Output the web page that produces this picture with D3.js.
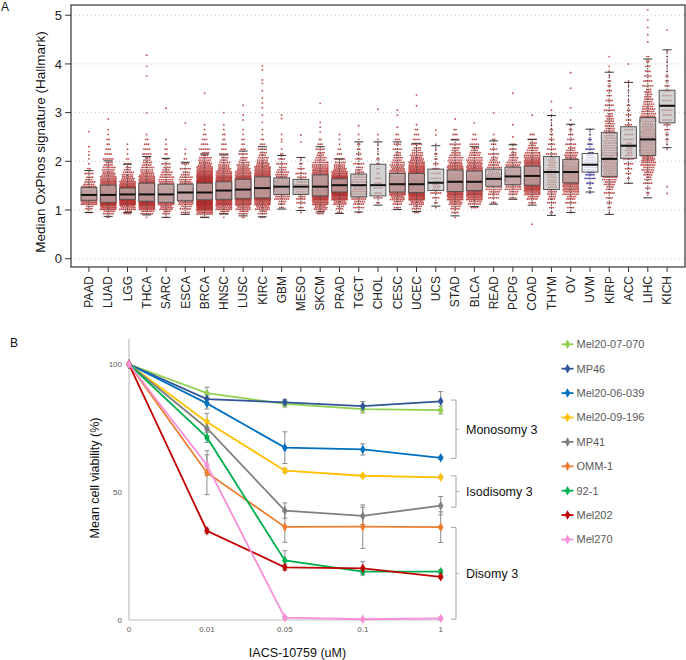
<!DOCTYPE html>
<html><head><meta charset="utf-8">
<script src="https://cdn.jsdelivr.net/npm/d3@7"></script>
<style>
body{margin:0;background:#fff;}
svg{display:block;font-family:"Liberation Sans",Arial,Helvetica,sans-serif;}
</style>
</head><body>
<svg id="chart" width="686" height="660"></svg>
<script>
// ---------------- Panel A data ----------------
const categories = ["PAAD","LUAD","LGG","THCA","SARC","ESCA","BRCA","HNSC","LUSC","KIRC","GBM","MESO","SKCM","PRAD","TGCT","CHOL","CESC","UCEC","UCS","STAD","BLCA","READ","PCPG","COAD","THYM","OV","UVM","KIRP","ACC","LIHC","KICH"];
const highlightCategory = "UVM";
const q1 = [1.20,1.16,1.22,1.18,1.16,1.19,1.21,1.22,1.24,1.25,1.32,1.32,1.29,1.37,1.27,1.29,1.37,1.36,1.40,1.38,1.40,1.49,1.52,1.51,1.42,1.56,1.78,1.69,2.06,2.12,2.79];
const medians = [1.31,1.31,1.32,1.32,1.32,1.36,1.36,1.40,1.42,1.45,1.48,1.48,1.48,1.51,1.51,1.51,1.53,1.53,1.56,1.58,1.58,1.64,1.69,1.70,1.78,1.78,1.93,2.05,2.32,2.45,3.14];
const q3 = [1.46,1.51,1.45,1.55,1.53,1.53,1.55,1.58,1.63,1.68,1.66,1.63,1.72,1.64,1.74,1.94,1.75,1.75,1.84,1.82,1.80,1.84,1.88,1.90,2.10,2.04,2.16,2.59,2.71,2.90,3.46];
const whiskerLow = [0.95,0.87,0.95,0.90,0.85,0.91,0.85,0.92,0.88,0.86,1.02,0.99,0.96,0.93,0.96,1.10,1.01,0.97,1.08,0.88,1.07,1.12,1.22,1.10,0.89,0.95,1.37,0.91,1.55,1.25,2.28];
const whiskerHigh = [1.81,2.01,1.94,2.10,2.06,1.98,2.15,2.13,2.21,2.30,2.12,2.08,2.30,2.05,2.40,2.40,2.40,2.37,2.32,2.44,2.30,2.42,2.34,2.45,2.94,2.76,2.66,3.83,3.62,4.10,4.29];
// sample density: counts per 0.1-wide bin, first bin starting at binStart
const binStart = [0.9,0.8,0.9,0.8,0.8,0.9,0.8,0.8,0.8,0.8,1.0,0.9,0.9,0.9,0.9,1.1,1.0,0.9,1.0,0.8,1.0,1.1,1.2,1.1,0.9,0.9,1.3,0.9,1.5,1.3,2.2];
const binCounts = [
  [3,8,30,44,38,24,12,8,5,2,1,1],
  [2,12,35,90,100,80,60,40,28,20,14,9,6,4,3,2,2,1,1],
  [8,25,70,140,120,70,35,20,12,7,4,2,1,1,1],
  [1,14,40,80,90,75,60,45,30,22,14,10,7,5,4,3,2,1],
  [2,8,20,38,42,40,32,24,16,12,8,5,3,2,2,1,1],
  [5,12,24,28,30,26,20,14,9,6,4,2,1,1],
  [5,30,70,150,200,190,150,110,70,45,30,20,14,8,6,4,3,2,1,1],
  [1,10,28,55,80,85,75,60,45,30,20,12,8,5,3,3,2,2,1,1],
  [2,10,22,45,70,80,75,62,48,30,20,13,8,5,3,2,2,1,1],
  [3,9,22,40,62,75,75,65,55,42,30,20,12,8,5,3,2,1,1],
  [3,8,16,24,28,24,20,14,9,6,4,2,1],
  [1,3,5,9,14,16,13,10,6,4,2,1],
  [8,20,35,55,65,65,58,48,38,28,18,12,8,5,3,2],
  [3,8,20,45,85,105,90,60,35,20,12,6,3,2,1,1,1],
  [2,6,12,16,18,20,18,14,11,8,6,4,3,2,2,1,1],
  [2,5,4,5,4,3,2,2,2,2,1,1,1,1,1],
  [4,10,22,38,45,42,36,28,22,15,10,7,5,4,3,2],
  [3,10,22,45,70,80,75,62,50,38,28,20,13,9,6,4,3,2,1],
  [1,2,4,6,8,7,6,5,4,3,2,2,1,1],
  [1,4,10,20,34,48,52,50,45,38,30,22,16,11,8,6,4,3,2],
  [4,14,32,50,56,54,48,40,32,24,17,12,8,5,3,2],
  [3,6,12,18,24,24,20,16,12,8,6,4,3,2,1],
  [4,10,18,24,28,26,22,16,10,7,4,3],
  [4,12,30,48,62,66,62,52,40,28,18,12,8,5,3],
  [2,3,5,8,10,10,10,10,10,9,8,7,6,5,4,3,2,2,1,1,1,1],
  [2,4,6,10,18,28,36,40,40,36,28,20,14,9,6,4,3,2,2,1],
  [1,2,4,6,9,14,14,11,7,5,3,2,1,1],
  [1,2,3,4,6,8,12,16,20,22,22,20,18,16,14,13,12,11,10,9,7,6,5,4,3,3,2,2,1,1,1],
  [1,2,3,4,5,6,7,7,7,6,5,5,4,3,3,2,2,1,1,1,1,1],
  [2,3,5,7,10,13,16,20,24,26,27,26,24,22,20,18,16,14,12,10,8,7,6,5,4,3,3,2,2],
  [1,1,2,2,3,4,5,5,6,6,5,5,4,3,2,2,1,1,1,1,1]
];
const extraPoints = [
  [2.13,2.2,2.3,2.61],[2.87],[],[2.99,3.75,3.95,4.18],[3.09],[2.79],[3.40],[3.0],[2.85,2.95,3.15],
  [2.8,2.95,3.1,3.2,3.3,3.45,3.6,3.67,3.88,3.96],[2.4,2.45,2.55,2.88,2.95],[2.4,2.54],[2.6,2.7,2.8,3.19],[],
  [2.73],[3.07],[2.7,2.95,3.05],[3.14,3.36],[2.54,2.64],[2.87],[2.79],[2.99],[2.5,2.75,3.40],[0.71,2.95],
  [3.23],[3.1,3.5,3.82],[],[4.15],[4.0],[4.45,4.6,4.75,4.9,5.11],[1.34,1.48,4.7]
];
const yTicksA = [0,1,2,3,4,5];

// ---------------- Panel B data ----------------
const doses = ["0","0.01","0.05","0.1","1"];
const cellLines = ["Mel20-07-070","MP46","Mel20-06-039","Mel20-09-196","MP41","OMM-1","92-1","Mel202","Mel270"];
const lineColors = ["#92d050","#2f5597","#0070c0","#ffc000","#7f7f7f","#ed7d31","#00b050","#c00000","#f78fd6"];
const viability = [
  [100,88.7,84.5,82.5,82.1],
  [100,86.4,85.1,83.6,85.5],
  [100,84.7,67.4,66.7,63.4],
  [100,77.4,58.4,56.4,55.8],
  [100,75.0,42.8,40.7,44.7],
  [100,57.6,36.4,36.5,36.3],
  [100,71.4,23.3,18.9,18.9],
  [100,34.9,20.6,20.2,16.9],
  [100,60.6,0.9,0.3,0.6]
];
const viabilityErr = [
  [0,2.3,1.2,1.5,1.5],
  [0,1.5,1.2,1.8,3.8],
  [0,2.2,6.2,2.2,0.5],
  [0,3.4,0.8,0.5,0.5],
  [0,3.0,3.0,3.4,3.6],
  [0,8.6,6.0,8.5,6.0],
  [0,2.0,3.8,1.0,0.8],
  [0,1.0,1.0,2.6,0.5],
  [0,4.0,0.5,0.3,0.5]
];
const yTicksB = [0,50,100];
const groupLabels = ["Monosomy 3","Isodisomy 3","Disomy 3"];
const groupTop = [86,56.4,36.2];
const groupBottom = [63.2,44.1,0.3];

// ---------------- drawing ----------------
const svg = d3.select("#chart");

// ===== Panel A =====
const A = {left:71, right:685, top:5, bottom:267};
const xA = d3.scalePoint().domain(categories).range([A.left, A.right]).padding(0.93);
const yA = d3.scaleLinear().domain([-0.17, 5.21]).range([A.bottom, A.top]);
const step = xA.step();
const boxW = step*0.82;

const gA = svg.append("g");
// grid
gA.selectAll("line.grid").data(yTicksA).join("line")
  .attr("x1", A.left).attr("x2", A.right)
  .attr("y1", d=>yA(d)).attr("y2", d=>yA(d))
  .attr("stroke","#c8c8c8").attr("stroke-width",1).attr("stroke-dasharray","1,3");

// points: swarm-like layout of each bin's samples (positions only; values come from the bins)
function layoutDots(ci){
  const pts = [];
  const start = binStart[ci];
  const maxHalf = step*0.39;
  binCounts[ci].forEach((n,j)=>{
    if(!n) return;
    const lo = start + j*0.1;
    const R = Math.max(1, Math.min(5, Math.round(Math.sqrt(n/3))));
    for(let r=0;r<R;r++){
      const m = Math.floor((n - r + R - 1)/R);
      if(m<=0) continue;
      const s = m>1 ? Math.min(1.9, (2*maxHalf)/(m-1)) : 0;
      const shift = (r%2 && m>1) ? s*0.5 : 0;
      for(let c=0;c<m;c++){
        let off = (c-(m-1)/2)*s + shift;
        off = Math.max(-maxHalf, Math.min(maxHalf, off));
        pts.push({v: lo + (r+0.5)/R*0.1, off});
      }
    }
  });
  extraPoints[ci].forEach(v=>pts.push({v, off:0}));
  return pts;
}
categories.forEach((cat,ci)=>{
  const col = cat===highlightCategory ? "#1f1f9e" : "#b3302e";
  gA.append("g").selectAll("circle").data(layoutDots(ci)).join("circle")
    .attr("cx", d=>xA(cat)+d.off).attr("cy", d=>yA(d.v)).attr("r",0.95)
    .attr("fill", col).attr("fill-opacity",0.8);
});

// boxes
categories.forEach((cat,ci)=>{
  const cx = xA(cat);
  const g = gA.append("g");
  const hl = cat===highlightCategory;
  g.append("line").attr("x1",cx).attr("x2",cx).attr("y1",yA(q3[ci])).attr("y2",yA(whiskerHigh[ci]))
    .attr("stroke","#444").attr("stroke-dasharray","1.5,1.5");
  g.append("line").attr("x1",cx).attr("x2",cx).attr("y1",yA(q1[ci])).attr("y2",yA(whiskerLow[ci]))
    .attr("stroke","#444").attr("stroke-dasharray","1.5,1.5");
  [whiskerLow[ci], whiskerHigh[ci]].forEach(v=>{
    g.append("line").attr("x1",cx-4.5).attr("x2",cx+4.5).attr("y1",yA(v)).attr("y2",yA(v))
      .attr("stroke","#333").attr("stroke-width",1);
  });
  g.append("rect").attr("x",cx-boxW/2).attr("width",boxW)
    .attr("y",yA(q3[ci])).attr("height",yA(q1[ci])-yA(q3[ci]))
    .attr("fill", hl ? "#ffffff" : "#bdbdbd").attr("fill-opacity", hl?0.75:0.68)
    .attr("stroke","#555").attr("stroke-width",1);
  g.append("line").attr("x1",cx-boxW/2).attr("x2",cx+boxW/2)
    .attr("y1",yA(medians[ci])).attr("y2",yA(medians[ci]))
    .attr("stroke","#111").attr("stroke-width",2);
});

// frame
gA.append("rect").attr("x",A.left).attr("y",A.top).attr("width",A.right-A.left).attr("height",A.bottom-A.top)
  .attr("fill","none").attr("stroke","#333").attr("stroke-width",1.2);

// y axis A
gA.selectAll("line.yt").data(yTicksA).join("line")
  .attr("x1",A.left-6).attr("x2",A.left).attr("y1",d=>yA(d)).attr("y2",d=>yA(d)).attr("stroke","#333");
gA.selectAll("text.yt").data(yTicksA).join("text")
  .attr("x",A.left-9).attr("y",d=>yA(d)).attr("dy","0.36em").attr("text-anchor","end")
  .attr("font-size",13).attr("fill","#222").text(d=>d);
// x axis A
gA.selectAll("line.xt").data(categories).join("line")
  .attr("x1",d=>xA(d)).attr("x2",d=>xA(d)).attr("y1",A.bottom).attr("y2",A.bottom+5).attr("stroke","#333");
gA.selectAll("text.xt").data(categories).join("text")
  .attr("transform",d=>`translate(${xA(d)+4.3},${A.bottom+9}) rotate(-90)`)
  .attr("text-anchor","end").attr("font-size",12).attr("fill","#222").text(d=>d);
// title
gA.append("text").attr("transform",`translate(45,142) rotate(-90)`).attr("text-anchor","middle")
  .attr("font-size",13.5).attr("fill","#111").text("Median OxPhos signature (Hallmark)");
gA.append("text").attr("x",1).attr("y",11).attr("font-size",12).attr("fill","#111").text("A");

// ===== Panel B =====
const xB = d3.scalePoint().domain(doses).range([129, 440.7]);
const yB = d3.scaleLinear().domain([0,110]).range([620, 338.7]);
const gB = svg.append("g");
gB.append("text").attr("x",10).attr("y",347).attr("font-size",12).attr("fill","#111").text("B");
// axes
gB.append("line").attr("x1",xB("0")).attr("x2",xB("0")).attr("y1",yB(110)).attr("y2",yB(0)).attr("stroke","#bfbfbf").attr("stroke-width",1.2);
gB.append("line").attr("x1",xB("0")).attr("x2",xB("1")).attr("y1",yB(0)).attr("y2",yB(0)).attr("stroke","#bfbfbf").attr("stroke-width",1.2);
gB.selectAll("text.ytb").data(yTicksB).join("text")
  .attr("x",122).attr("y",d=>yB(d)).attr("dy","0.35em").attr("text-anchor","end")
  .attr("font-size",8).attr("fill","#595959").text(d=>d);
gB.selectAll("text.xtb").data(doses).join("text")
  .attr("x",d=>xB(d)).attr("y",632).attr("text-anchor","middle")
  .attr("font-size",8).attr("fill","#595959").text(d=>d);
gB.append("text").attr("x",297.5).attr("y",657).attr("text-anchor","middle").attr("font-size",12.5).attr("fill","#111").text("IACS-10759 (uM)");
gB.append("text").attr("transform","translate(99,478) rotate(-90)").attr("text-anchor","middle").attr("font-size",12.5).attr("fill","#111").text("Mean cell viability (%)");

// error bars
cellLines.forEach((name,si)=>{
  doses.forEach((d,di)=>{
    const e = viabilityErr[si][di];
    if(!e) return;
    const v = viability[si][di], x = xB(d);
    const g = gB.append("g").attr("stroke","#8c8c8c").attr("stroke-width",1);
    g.append("line").attr("x1",x).attr("x2",x).attr("y1",yB(v+e)).attr("y2",yB(v-e));
    g.append("line").attr("x1",x-2.5).attr("x2",x+2.5).attr("y1",yB(v+e)).attr("y2",yB(v+e));
    g.append("line").attr("x1",x-2.5).attr("x2",x+2.5).attr("y1",yB(v-e)).attr("y2",yB(v-e));
  });
});
// lines
const lineGen = d3.line().x((v,i)=>xB(doses[i])).y(v=>yB(v));
const diamond = d3.symbol().type(d3.symbolDiamond).size(26);
cellLines.forEach((name,si)=>{
  gB.append("path").attr("d",lineGen(viability[si])).attr("fill","none")
    .attr("stroke",lineColors[si]).attr("stroke-width",1.8);
  gB.append("g").selectAll("path").data(viability[si]).join("path")
    .attr("d",diamond).attr("transform",(v,i)=>`translate(${xB(doses[i])},${yB(v)})`)
    .attr("fill",lineColors[si]);
});

// brackets
groupLabels.forEach((lab,gi)=>{
  const bx = 456;
  const t = yB(groupTop[gi]), b = yB(groupBottom[gi]), m = (t+b)/2;
  const g = gB.append("g").attr("stroke","#a6a6a6").attr("stroke-width",1).attr("fill","none");
  g.append("path").attr("d",`M${bx-5},${t}H${bx}V${b}H${bx-5}M${bx},${m}H${bx+3}`);
  gB.append("text").attr("x",466).attr("y",m).attr("dy","0.35em").attr("font-size",12.5).attr("fill","#111").text(lab);
});

// legend
cellLines.forEach((name,si)=>{
  const y = 344.3 + si*24.4;
  gB.append("line").attr("x1",561.5).attr("x2",573.5).attr("y1",y).attr("y2",y).attr("stroke",lineColors[si]).attr("stroke-width",1.8);
  gB.append("path").attr("d",diamond).attr("transform",`translate(567.5,${y})`).attr("fill",lineColors[si]);
  gB.append("text").attr("x",576.5).attr("y",y).attr("dy","0.35em").attr("font-size",11).attr("fill","#595959").text(name);
});
</script>
</body></html>
